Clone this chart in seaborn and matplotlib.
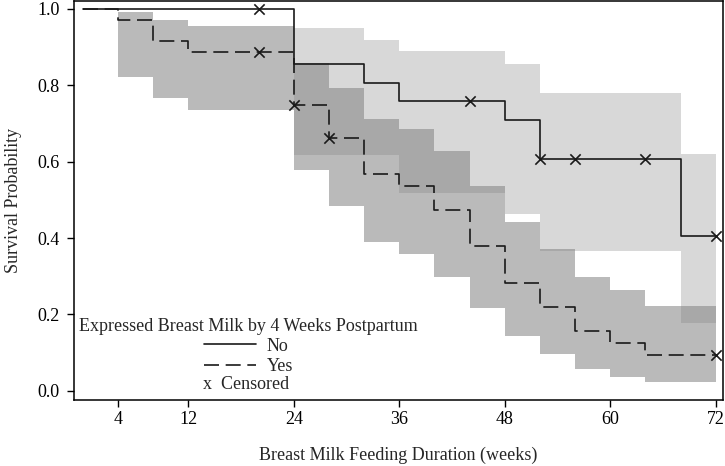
import numpy as np
import pandas as pd
import matplotlib
matplotlib.use("Agg")
import matplotlib.pyplot as plt
import seaborn as sns
from matplotlib.lines import Line2D

## Kaplan-Meier estimates
no_time = [0, 24, 32, 36, 48, 52, 68, 72]
no_surv = [1.0, 0.857, 0.807, 0.759, 0.710, 0.607, 0.405, 0.405]
yes_time = [0, 4, 8, 12, 24, 28, 32, 36, 40, 44, 48, 52, 56, 60, 64, 72]
yes_surv = [1.0, 0.970, 0.916, 0.888, 0.749, 0.663, 0.568, 0.537, 0.474, 0.379,
            0.283, 0.220, 0.157, 0.124, 0.094, 0.094]

## confidence bands
no_ci_time = [24, 32, 36, 48, 52, 68, 72]
no_ci_upper = [0.949, 0.920, 0.890, 0.855, 0.779, 0.620, 0.620]
no_ci_lower = [0.618, 0.618, 0.517, 0.463, 0.366, 0.178, 0.178]
yes_ci_time = [4, 8, 12, 24, 28, 32, 36, 40, 44, 48, 52, 56, 60, 64, 72]
yes_ci_upper = [0.991, 0.970, 0.955, 0.859, 0.793, 0.713, 0.685, 0.628, 0.537,
                0.442, 0.372, 0.299, 0.263, 0.222, 0.222]
yes_ci_lower = [0.822, 0.766, 0.735, 0.577, 0.485, 0.389, 0.357, 0.298, 0.217,
                0.143, 0.0965, 0.057, 0.037, 0.023, 0.023]

## censored observations
no_cens_time = [20, 44, 52, 56, 64, 72]
no_cens_surv = [1.0, 0.759, 0.607, 0.607, 0.607, 0.405]
yes_cens_time = [20, 24, 28, 72]
yes_cens_surv = [0.888, 0.749, 0.663, 0.094]

x_ticks = [4, 12, 24, 36, 48, 60, 72]
y_ticks = [0.0, 0.2, 0.4, 0.6, 0.8, 1.0]

sns.set_style("ticks")
plt.rcParams['font.family'] = ['Liberation Serif', 'DejaVu Serif']
plt.rcParams['font.size'] = 13

curves = pd.concat([
    pd.DataFrame({'week': no_time, 'surv': no_surv, 'group': 'No'}),
    pd.DataFrame({'week': yes_time, 'surv': yes_surv, 'group': 'Yes'}),
])
cens = pd.DataFrame({'week': no_cens_time + yes_cens_time,
                     'surv': no_cens_surv + yes_cens_surv})

fig, ax = plt.subplots(figsize=(7.25, 4.66), dpi=100)
fig.subplots_adjust(left=0.102, right=0.997, top=0.998, bottom=0.142)

ax.fill_between(no_ci_time, no_ci_lower, no_ci_upper, step='post',
                color='gray', alpha=0.3, linewidth=0)
ax.fill_between(yes_ci_time, yes_ci_lower, yes_ci_upper, step='post',
                color='gray', alpha=0.54, linewidth=0)

sns.lineplot(data=curves, x='week', y='surv', style='group',
             dashes={'No': '', 'Yes': (9, 4)}, color='#1a1a1a', linewidth=1.2,
             estimator=None, drawstyle='steps-post', legend=False, ax=ax)
sns.scatterplot(data=cens, x='week', y='surv', marker='x', color='#1a1a1a',
                s=55, linewidth=1.2, zorder=5, ax=ax)

ax.set_xlim(-1, 72.8)
ax.set_ylim(-0.0236, 1.021)
ax.set_xticks(x_ticks)
ax.set_yticks(y_ticks)
ax.set_yticklabels([f'{v:.1f}' for v in y_ticks])
ax.tick_params(direction='out', length=5.3, width=1, colors='black', labelsize=13)
ax.tick_params(axis='y', pad=5)
ax.tick_params(axis='x', pad=3)
for s in ax.spines.values():
    s.set_visible(True)
    s.set_color('black')
    s.set_linewidth(1.1)

ax.set_xlabel('Breast Milk Feeding Duration (weeks)', fontsize=13, labelpad=13)
ax.set_ylabel('Survival Probability', fontsize=13, labelpad=11)

handles = [Line2D([], [], color='#1a1a1a', lw=1.2),
           Line2D([], [], color='#1a1a1a', lw=1.2, dashes=(9, 4))]
leg = ax.legend(handles, ['No', 'Yes'], title='Expressed Breast Milk by 4 Weeks Postpartum',
                frameon=False, loc='upper left', bbox_to_anchor=(-0.006, 0.229),
                fontsize=13, title_fontsize=13, handlelength=2.9,
                handletextpad=0.55, labelspacing=0.18, borderpad=0.0)
ax.text(0.199, 0.039, 'x  Censored', transform=ax.transAxes, fontsize=13,
        ha='left', va='center')

plt.savefig('out.png', dpi=100)
